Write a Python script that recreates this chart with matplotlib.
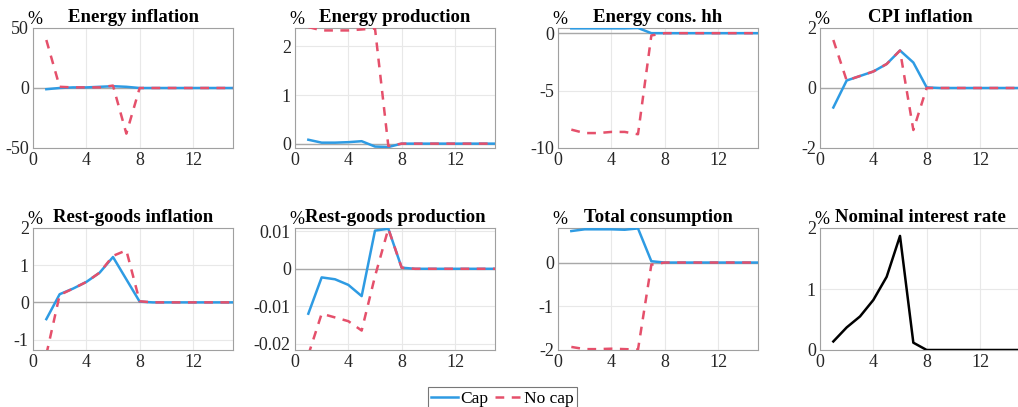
import numpy as np
import matplotlib
matplotlib.use("Agg")
import matplotlib.pyplot as plt

plt.rcParams['font.family'] = ['Liberation Serif', 'DejaVu Serif']

# horizon (quarters)
t = list(range(1, 16))

titles = ["Energy inflation", "Energy production", "Energy cons. hh", "CPI inflation",
          "Rest-goods inflation", "Rest-goods production", "Total consumption", "Nominal interest rate"]

# Cap scenario
cap = [
    [-1, 0, 0.5, 0.5, 1, 1.5, 1, 0, 0, 0, 0, 0, 0, 0, 0],
    [0.08, 0.02, 0.02, 0.03, 0.05, -0.06, -0.07, 0, 0, 0, 0, 0, 0, 0, 0],
    [0.42, 0.42, 0.42, 0.42, 0.42, 0.45, 0.0, 0, 0, 0, 0, 0, 0, 0, 0],
    [-0.65, 0.25, 0.4, 0.55, 0.8, 1.25, 0.85, 0.02, 0, 0, 0, 0, 0, 0, 0],
    [-0.45, 0.22, 0.37, 0.55, 0.8, 1.22, 0.62, 0.02, 0, 0, 0, 0, 0, 0, 0],
    [-0.012, -0.0023, -0.0028, -0.0043, -0.0073, 0.0102, 0.0107, 0.0003, 0, 0, 0, 0, 0, 0, 0],
    [0.72, 0.76, 0.76, 0.76, 0.75, 0.78, 0.03, 0, 0, 0, 0, 0, 0, 0, 0],
    [0.14, 0.37, 0.55, 0.82, 1.2, 1.87, 0.12, 0, 0, 0, 0, 0, 0, 0, 0],
]

# No cap scenario (last panel has a single line)
nocap = [
    [40, 1, 0.5, 0.5, 0.5, 2, -38, 0, 0, 0, 0, 0, 0, 0, 0],
    [2.40, 2.33, 2.33, 2.33, 2.35, 2.37, -0.05, 0, 0, 0, 0, 0, 0, 0, 0],
    [-8.4, -8.7, -8.7, -8.6, -8.6, -8.8, -0.2, 0, 0, 0, 0, 0, 0, 0, 0],
    [1.6, 0.25, 0.4, 0.55, 0.8, 1.25, -1.4, 0, 0, 0, 0, 0, 0, 0, 0],
    [-1.4, 0.2, 0.37, 0.55, 0.8, 1.25, 1.4, 0.03, 0, 0, 0, 0, 0, 0, 0],
    [-0.023, -0.012, -0.013, -0.014, -0.0165, -0.002, 0.0107, 0.0003, 0, 0, 0, 0, 0, 0, 0],
    [-1.93, -1.98, -1.98, -1.97, -1.98, -1.99, -0.05, 0, 0, 0, 0, 0, 0, 0, 0],
    None,
]

ylims = [(-50, 50), (-0.09, 2.38), (-10, 0.45), (-2, 2),
         (-1.28, 2), (-0.0217, 0.0109), (-2, 0.79), (0, 2)]
yticks = [[-50, 0, 50], [0, 1, 2], [-10, -5, 0], [-2, 0, 2],
          [-1, 0, 1, 2], [-0.02, -0.01, 0, 0.01], [-2, -1, 0], [0, 1, 2]]
yticklabels = [["-50", "0", "50"], ["0", "1", "2"], ["-10", "-5", "0"], ["-2", "0", "2"],
               ["-1", "0", "1", "2"], ["-0.02", "-0.01", "0", "0.01"], ["-2", "-1", "0"], ["0", "1", "2"]]

W, H = 1018, 407
fig = plt.figure(figsize=(W / 100, H / 100), dpi=100)

lefts = [33, 295, 558, 820]
rows = [(28, 148), (228, 350)]

blue = '#2e9be3'
red = '#e5506b'

for i in range(8):
    r, c = divmod(i, 4)
    top, bot = rows[r]
    ax = fig.add_axes([lefts[c] / W, (H - bot) / H, 200 / W, (bot - top) / H])
    ax.set_xlim(0, 15)
    ax.set_ylim(*ylims[i])
    ax.set_xticks([0, 4, 8, 12])
    ax.set_yticks(yticks[i])
    ax.set_yticklabels(yticklabels[i])
    ax.grid(True, color='#e8e8e8', lw=0.8)
    ax.set_axisbelow(True)
    for s in ax.spines.values():
        s.set_color('#a0a0a0')
        s.set_linewidth(0.8)
    ax.tick_params(length=0, labelsize=13, colors='#262626', pad=3)
    if i != 7:
        ax.axhline(0, color='#a8a8a8', lw=1.0, zorder=1)
    if nocap[i] is not None:
        ax.plot(t, cap[i], color=blue, lw=1.8, label='Cap', zorder=3)
        ax.plot(t, nocap[i], color=red, lw=1.8, ls=(0, (3.5, 3)), label='No cap', zorder=4)
    else:
        ax.plot(t, cap[i], color='black', lw=1.8, zorder=3)
    ax.set_title(titles[i], fontsize=13.5, fontweight='bold', pad=4)
    ax.text(0.01, 1.0, '%', transform=ax.transAxes, ha='center', va='bottom', fontsize=13)
    if i == 0:
        handles, labels = ax.get_legend_handles_labels()

leg = fig.legend(handles, labels, loc='upper left', bbox_to_anchor=(428 / W, 1 - 387 / H),
                 ncol=2, fontsize=12.5, frameon=True, fancybox=False, handlelength=1.55,
                 columnspacing=0.35, handletextpad=0.12, borderpad=0.2, borderaxespad=0)
leg.get_frame().set_edgecolor('#555555')
leg.get_frame().set_linewidth(0.8)

fig.savefig('out.png', dpi=100)
